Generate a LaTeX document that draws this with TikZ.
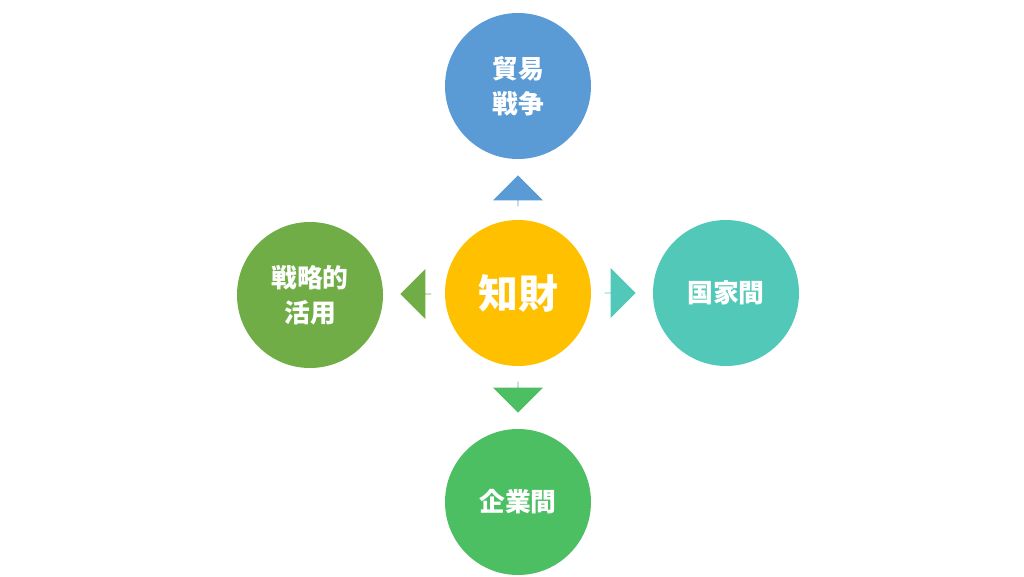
\documentclass[tikz,border=0pt]{standalone}
\usepackage{fontspec}
\newfontfamily\cjk{Noto Sans CJK JP}
\usetikzlibrary{shapes.arrows}
\definecolor{cblue}{HTML}{5B9BD5}
\definecolor{cgold}{HTML}{FFC000}
\definecolor{cteal}{HTML}{52C9B8}
\definecolor{cgreen}{HTML}{70AD47}
\definecolor{clime}{HTML}{4CBF63}
\tikzset{
  topic/.style={circle,minimum size=4.38cm,inner sep=0pt,text=white,
    font=\cjk\bfseries\fontsize{22}{30}\selectfont,align=center},
  go/.style={single arrow,minimum width=1.5cm,minimum height=0.93cm,
    single arrow head extend=0.38cm,inner sep=0pt}
}
\begin{document}
\begin{tikzpicture}[x=.03cm,y=-.03cm]
		\useasboundingbox(0,0)rectangle(1024,576);
		\node[topic,fill=cgold,font=\cjk\bfseries\fontsize{34}{40}\selectfont](IP)at(518,293){知財};
		\node[topic,fill=cblue](TW)at(518,86){貿易\\戦争};
		\node[topic,fill=cteal](NA)at(726,293){国家間};
		\node[topic,fill=cgreen](SU)at(310,295){戦略的\\活用};
		\node[topic,fill=clime](CO)at(518,502){企業間};
		\node[go,fill=cblue,shape border rotate=90](aTW)at(518,191){};
		\node[go,fill=cteal](aNA)at(620,293){};
		\node[go,fill=cgreen,shape border rotate=180](aSU)at(416,294){};
		\node[go,fill=clime,shape border rotate=270](aCO)at(518,397){};
		\end{tikzpicture}
\end{document}
